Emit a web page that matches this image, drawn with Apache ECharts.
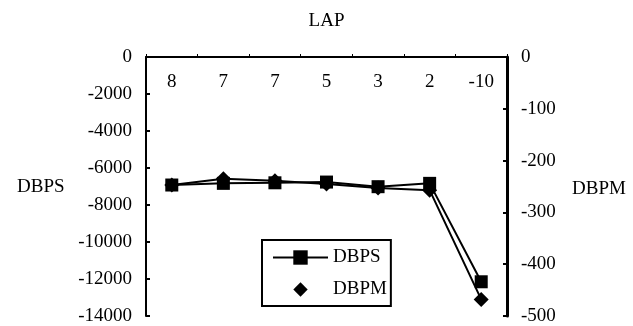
<!DOCTYPE html>
<html><head><meta charset="utf-8">
<script src="https://cdn.jsdelivr.net/npm/echarts@6/dist/echarts.min.js"></script>
<style>html,body{margin:0;padding:0;background:#fff}#c{width:633px;height:326px}</style>
</head><body><div id="c"></div>
<script>
const categories = ['8','7','7','5','3','2','-10'];
const dbps = [-6920, -6830, -6800, -6760, -7010, -6830, -12150];
const dbpm = [-247, -235, -239, -245, -253, -257, -468];
const leftTicks = {min:-14000, max:0, interval:2000};
const rightTicks = {min:-500, max:0, interval:100};

const FONT = 'Liberation Serif';
const FS = 19;
const chart = echarts.init(document.getElementById('c'));
chart.setOption({
  animation:false,
  backgroundColor:'#fff',
  textStyle:{fontFamily:FONT, color:'#000'},
  grid:{left:146, right:126, top:57, bottom:10},
  xAxis:{type:'category', data:categories, position:'top', boundaryGap:true,
    name:'LAP', nameLocation:'middle', nameGap:26,
    nameTextStyle:{fontFamily:FONT, fontSize:FS, color:'#000'},
    axisLine:{lineStyle:{color:'#000', width:2}},
    axisTick:{show:true, inside:false, length:3, lineStyle:{color:'#000'}},
    axisLabel:{inside:true, margin:16, fontFamily:FONT, fontSize:FS, color:'#000'},
    splitLine:{show:false}},
  yAxis:[
    {type:'value', position:'left', min:leftTicks.min, max:leftTicks.max, interval:leftTicks.interval,
     axisLine:{show:true, lineStyle:{color:'#000', width:2}},
     axisTick:{show:true, inside:true, length:4, lineStyle:{color:'#000', width:2}},
     axisLabel:{margin:14, fontFamily:FONT, fontSize:FS, color:'#000', formatter:v => String(v)},
     splitLine:{show:false}},
    {type:'value', position:'right', min:rightTicks.min, max:rightTicks.max, interval:rightTicks.interval,
     axisLine:{show:true, lineStyle:{color:'#000', width:3}},
     axisTick:{show:true, inside:true, length:4, lineStyle:{color:'#000', width:2}},
     axisLabel:{margin:14, fontFamily:FONT, fontSize:FS, color:'#000', formatter:v => String(v)},
     splitLine:{show:false}}
  ],
  legend:{orient:'vertical', left:262, top:240, width:124,
    padding:[8,4,7,10], itemGap:13, itemWidth:55, itemHeight:18,
    borderColor:'#000', borderWidth:2,
    textStyle:{fontFamily:FONT, fontSize:FS, color:'#000'},
    data:[{name:'DBPS'}, {name:'DBPM', lineStyle:{opacity:0}}]},
  graphic:[
    {type:'text', left:17, top:178, style:{text:'DBPS', font:'19px "Liberation Serif"', fill:'#000'}},
    {type:'text', left:572, top:180, style:{text:'DBPM', font:'19px "Liberation Serif"', fill:'#000'}}
  ],
  series:[
    {name:'DBPM', type:'line', yAxisIndex:1, data:dbpm, symbol:'diamond', symbolSize:15,
     itemStyle:{color:'#000'}, lineStyle:{color:'#000', width:2}},
    {name:'DBPS', type:'line', yAxisIndex:0, data:dbps, symbol:'rect', symbolSize:13,
     itemStyle:{color:'#000'}, lineStyle:{color:'#000', width:2}}
  ]
});
</script></body></html>
